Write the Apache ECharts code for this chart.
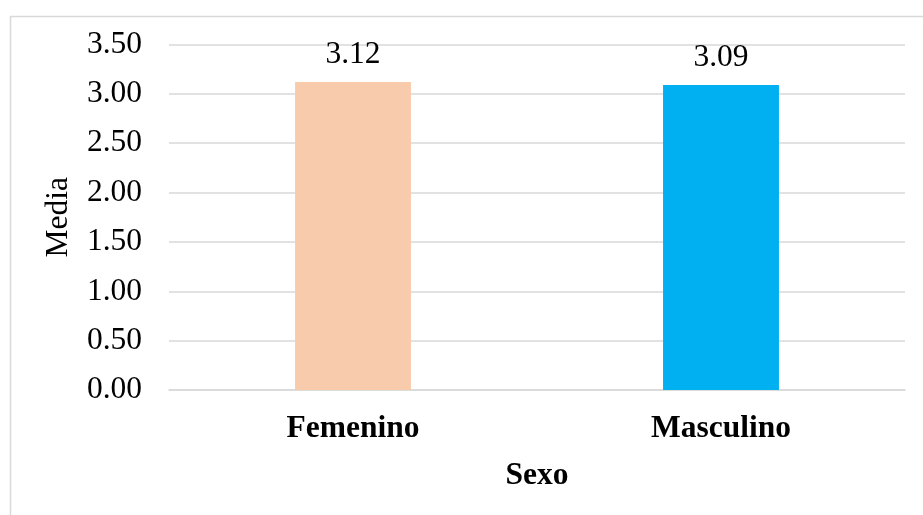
<!DOCTYPE html>
<html>
<head>
<meta charset="utf-8">
<script src="https://cdn.jsdelivr.net/npm/echarts@6/dist/echarts.min.js"></script>
<style>
  html, body { margin: 0; padding: 0; background: #fff; }
  #chart { width: 923px; height: 515px; }
</style>
</head>
<body>
<div id="chart"></div>
<script>
// Mean score by sex
const categories = ['Femenino', 'Masculino'];
const means = [3.12, 3.09];
const barColors = ['#F8CBAD', '#00B0F0'];
const yTicks = { min: 0, max: 3.5, interval: 0.5 };

const font = '"Liberation Serif", "Times New Roman", serif';
const fs = 31.5;

const chart = echarts.init(document.getElementById('chart'));
chart.setOption({
  animation: false,
  backgroundColor: '#ffffff',
  textStyle: { fontFamily: font },
  graphic: [{
    type: 'rect',
    left: 8, top: 14,
    shape: { width: 1000, height: 600 },
    style: { fill: 'none', stroke: '#D9D9D9', lineWidth: 1.5 },
    silent: true
  }],
  grid: { left: 169, right: 18, top: 44.5, bottom: 125, containLabel: false },
  xAxis: {
    type: 'category',
    data: categories,
    name: 'Sexo',
    nameLocation: 'middle',
    nameGap: 70,
    nameTextStyle: { fontFamily: font, fontSize: fs, fontWeight: 'bold', color: '#000' },
    axisLine: { show: true, lineStyle: { color: '#D9D9D9', width: 1.5 } },
    axisTick: { show: false },
    axisLabel: { fontFamily: font, fontSize: fs, fontWeight: 'bold', color: '#000', margin: 23 }
  },
  yAxis: {
    type: 'value',
    min: yTicks.min, max: yTicks.max, interval: yTicks.interval,
    name: 'Media',
    nameLocation: 'middle',
    nameGap: 94,
    nameTextStyle: { fontFamily: font, fontSize: fs, color: '#000' },
    axisLine: { show: false },
    axisTick: { show: false },
    splitLine: { lineStyle: { color: '#D9D9D9', width: 1.5 } },
    axisLabel: {
      fontFamily: font, fontSize: fs, color: '#000', margin: 27,
      formatter: v => v.toFixed(2)
    }
  },
  series: [{
    type: 'bar',
    barWidth: '31.5%',
    data: means.map((v, i) => ({ value: v, itemStyle: { color: barColors[i] } })),
    label: {
      show: true, position: 'top', distance: 11,
      fontFamily: font, fontSize: fs, color: '#000',
      formatter: p => p.value.toFixed(2)
    }
  }]
});
</script>
</body>
</html>
